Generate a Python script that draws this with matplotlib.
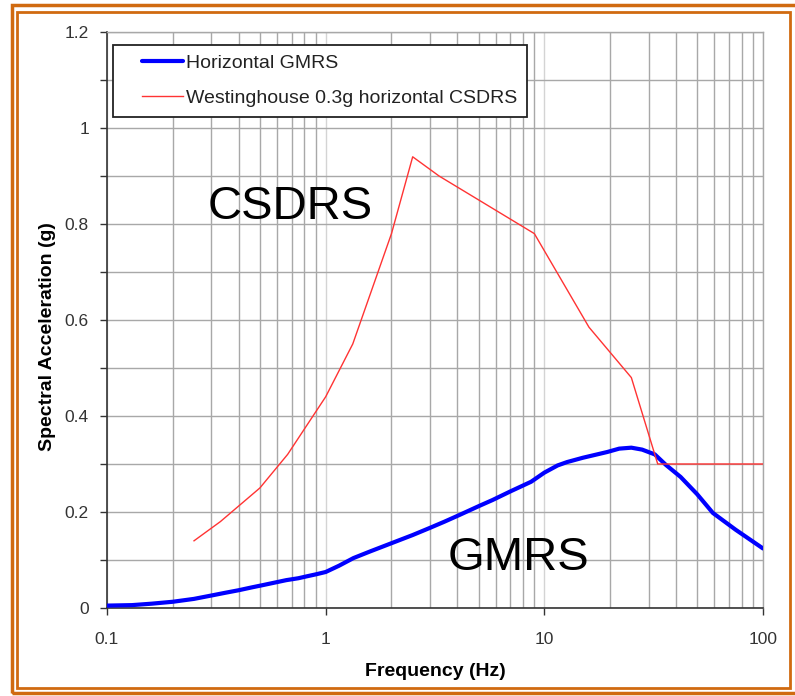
import numpy as np
import matplotlib
matplotlib.use("Agg")
import matplotlib.pyplot as plt
from matplotlib.patches import Rectangle
from matplotlib.lines import Line2D
from matplotlib.legend_handler import HandlerLine2D
from matplotlib.ticker import FixedLocator, NullFormatter, FuncFormatter

plt.rcParams['font.family'] = ['Liberation Sans', 'DejaVu Sans']

# Horizontal GMRS
gmrs_f = [0.1, 0.13, 0.16, 0.2, 0.25, 0.3, 0.35, 0.4, 0.46, 0.52, 0.6, 0.66,
          0.75, 0.82, 0.9, 1.0, 1.15, 1.34, 1.6, 2.0, 2.5, 3.0, 3.5, 4.1, 5.0,
          5.8, 7.0, 8.7, 10.0, 11.5, 12.7, 15.0, 19.4, 22.0, 25.0, 28.0, 32.0,
          36.0, 42.0, 50.0, 59.0, 75.0, 100.0]
gmrs_a = [0.005, 0.006, 0.009, 0.013, 0.019, 0.026, 0.032, 0.037, 0.043, 0.048,
          0.054, 0.058, 0.062, 0.066, 0.070, 0.075, 0.088, 0.104, 0.118, 0.135,
          0.152, 0.167, 0.180, 0.194, 0.212, 0.225, 0.243, 0.263, 0.282, 0.297,
          0.304, 0.313, 0.325, 0.332, 0.334, 0.330, 0.320, 0.298, 0.273, 0.237,
          0.198, 0.163, 0.124]

# Westinghouse 0.3g horizontal CSDRS
csdrs_f = [0.25, 0.33, 0.5, 0.67, 1.0, 1.33, 2.0, 2.5, 3.3, 9.0, 16.0, 25.0, 33.0, 100.0]
csdrs_a = [0.14, 0.18, 0.25, 0.32, 0.44, 0.55, 0.78, 0.94, 0.90, 0.78, 0.585, 0.48, 0.30, 0.30]

W, H = 795, 696
fig = plt.figure(figsize=(W / 100, H / 100), dpi=100)
ax = fig.add_axes([107 / W, 1 - 608 / H, (763 - 107) / W, (608 - 32) / H])

ax.set_xscale('log')
ax.set_xlim(0.1, 100)
ax.set_ylim(0, 1.2)

# grid
ax.xaxis.set_minor_locator(FixedLocator([m * d for d in (0.1, 1, 10) for m in range(2, 10)]))
ax.xaxis.set_minor_formatter(NullFormatter())
ax.set_xticks([0.1, 1, 10, 100])
ax.xaxis.set_major_formatter(FuncFormatter(lambda v, p: f"{v:g}"))
ax.set_yticks(np.arange(0, 1.21, 0.2))
ax.yaxis.set_minor_locator(FixedLocator(np.arange(0.1, 1.2, 0.2)))
ax.yaxis.set_major_formatter(FuncFormatter(lambda v, p: f"{v:g}"))
ax.grid(which='minor', axis='x', color='#a8a8a8', lw=1.0)
ax.grid(which='major', axis='x', color='#d4d4d4', lw=1.0)
ax.grid(which='both', axis='y', color='#a8a8a8', lw=1.0)
ax.set_axisbelow(True)

for s in ('top', 'right'):
    ax.spines[s].set_color('#a8a8a8')
    ax.spines[s].set_linewidth(1.0)
for s in ('left', 'bottom'):
    ax.spines[s].set_color('#333333')
    ax.spines[s].set_linewidth(1.2)

ax.tick_params(axis='both', which='major', direction='out', length=5, width=1,
               color='#333333', labelsize=12.5, labelcolor='#333333', pad=8)
ax.tick_params(axis='x', which='minor', length=0)
ax.tick_params(axis='y', which='minor', direction='out', length=5, width=1, color='#333333')
ax.tick_params(axis='x', which='major', pad=12)

ax.plot(gmrs_f, gmrs_a, color='#0000ff', lw=3.0, label='Horizontal GMRS', zorder=3,
        solid_capstyle='round', solid_joinstyle='round')
ax.plot(csdrs_f, csdrs_a, color='#ff3333', lw=1.0,
        label='Westinghouse 0.3g horizontal CSDRS', zorder=4)

leg = ax.legend(loc='upper left', bbox_to_anchor=(0.009, 0.978), fontsize=14,
                fancybox=False, framealpha=1, edgecolor='#222222',
                handlelength=3.1, handletextpad=0.15, borderpad=0.5,
                labelspacing=0.9, borderaxespad=0,
                handler_map={Line2D: HandlerLine2D(xpad=1.0)})
leg.get_frame().set_linewidth(1.3)
for t in leg.get_texts():
    t.set_color('#222222')

ax.text(0.29, 0.81, 'CSDRS', fontsize=34, color='black')
ax.text(3.6, 0.08, 'GMRS', fontsize=34, color='black')

ax.set_xlabel('Frequency (Hz)', fontsize=14, fontweight='bold', labelpad=12)
ax.set_ylabel('Spectral Acceleration (g)', fontsize=14, fontweight='bold')
ax.yaxis.set_label_coords(-0.078, 0.472)

# orange double frame
orange = '#d06a10'
fig.add_artist(Rectangle((12 / W, 1 - 693 / H), (810 - 12) / W, (693 - 5) / H,
                         transform=fig.transFigure, fill=False, ec=orange, lw=2.5))
fig.add_artist(Rectangle((17 / W, 1 - 688 / H), (790 - 17) / W, (688 - 12) / H,
                         transform=fig.transFigure, fill=False, ec=orange, lw=2.0))

fig.savefig('out.png', dpi=100)
